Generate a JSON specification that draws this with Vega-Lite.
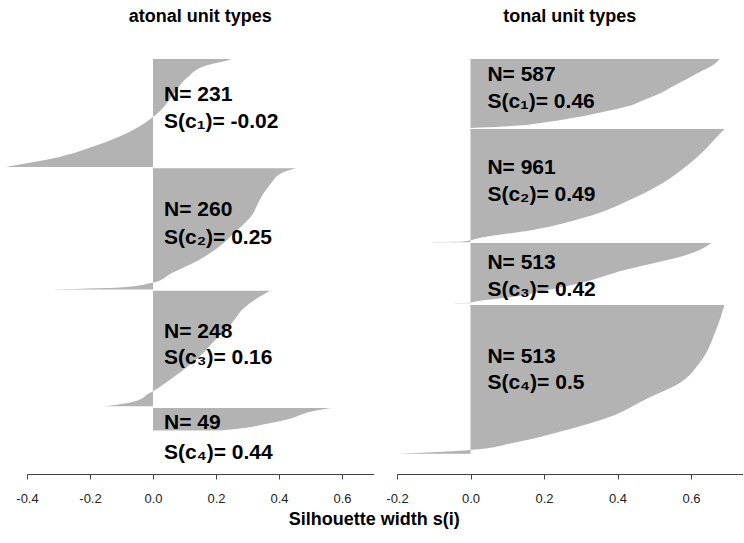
{
  "$schema": "https://vega.github.io/schema/vega-lite/v6.json",
  "padding": {"left": 5, "top": 8, "right": 0, "bottom": 0},
  "bounds": "flush",
  "spacing": 23,
  "config": {"view": {"stroke": null}, "font": "Liberation Sans"},
  "title": {"text": "Silhouette width s(i)", "orient": "bottom", "anchor": "middle", "fontSize": 18, "fontWeight": "bold", "font": "Liberation Sans", "color": "#000000", "offset": 6},
  "datasets": {
    "atonal": [
      {"c": 1, "pos": 0, "s": 0.248}, {"c": 1, "pos": 2, "s": 0.24}, {"c": 1, "pos": 13, "s": 0.174}, {"c": 1, "pos": 39, "s": 0.11}, {"c": 1, "pos": 73, "s": 0.068}, {"c": 1, "pos": 116, "s": 0.015}, {"c": 1, "pos": 124, "s": 0.0}, {"c": 1, "pos": 146, "s": -0.048}, {"c": 1, "pos": 167, "s": -0.11}, {"c": 1, "pos": 189, "s": -0.197}, {"c": 1, "pos": 210, "s": -0.3}, {"c": 1, "pos": 223, "s": -0.4}, {"c": 1, "pos": 231, "s": -0.467},
      {"c": 2, "pos": 234, "s": 0.454}, {"c": 2, "pos": 245, "s": 0.406}, {"c": 2, "pos": 266, "s": 0.375}, {"c": 2, "pos": 309, "s": 0.333}, {"c": 2, "pos": 331, "s": 0.317}, {"c": 2, "pos": 373, "s": 0.257}, {"c": 2, "pos": 404, "s": 0.206}, {"c": 2, "pos": 431, "s": 0.143}, {"c": 2, "pos": 459, "s": 0.057}, {"c": 2, "pos": 479, "s": 0.0}, {"c": 2, "pos": 480, "s": -0.01}, {"c": 2, "pos": 486, "s": -0.06}, {"c": 2, "pos": 490, "s": -0.15}, {"c": 2, "pos": 493, "s": -0.32},
      {"c": 3, "pos": 496, "s": 0.372}, {"c": 3, "pos": 511, "s": 0.333}, {"c": 3, "pos": 532, "s": 0.29}, {"c": 3, "pos": 567, "s": 0.248}, {"c": 3, "pos": 603, "s": 0.195}, {"c": 3, "pos": 640, "s": 0.143}, {"c": 3, "pos": 674, "s": 0.079}, {"c": 3, "pos": 700, "s": 0.025}, {"c": 3, "pos": 711, "s": 0.0}, {"c": 3, "pos": 717, "s": -0.017}, {"c": 3, "pos": 728, "s": -0.04}, {"c": 3, "pos": 736, "s": -0.08}, {"c": 3, "pos": 743, "s": -0.155},
      {"c": 4, "pos": 747, "s": 0.565}, {"c": 4, "pos": 755, "s": 0.5}, {"c": 4, "pos": 769, "s": 0.438}, {"c": 4, "pos": 782, "s": 0.35}, {"c": 4, "pos": 791, "s": 0.27}, {"c": 4, "pos": 795, "s": 0.2}
    ],
    "tonal": [
      {"c": 1, "pos": 0, "s": 0.678}, {"c": 1, "pos": 50, "s": 0.66}, {"c": 1, "pos": 100, "s": 0.63}, {"c": 1, "pos": 150, "s": 0.6}, {"c": 1, "pos": 200, "s": 0.57}, {"c": 1, "pos": 250, "s": 0.54}, {"c": 1, "pos": 300, "s": 0.51}, {"c": 1, "pos": 350, "s": 0.47}, {"c": 1, "pos": 400, "s": 0.43}, {"c": 1, "pos": 450, "s": 0.36}, {"c": 1, "pos": 500, "s": 0.28}, {"c": 1, "pos": 540, "s": 0.2}, {"c": 1, "pos": 570, "s": 0.11}, {"c": 1, "pos": 582, "s": 0.03}, {"c": 1, "pos": 587, "s": 0.0},
      {"c": 2, "pos": 595, "s": 0.691}, {"c": 2, "pos": 663, "s": 0.67}, {"c": 2, "pos": 773, "s": 0.637}, {"c": 2, "pos": 943, "s": 0.574}, {"c": 2, "pos": 1054, "s": 0.523}, {"c": 2, "pos": 1198, "s": 0.433}, {"c": 2, "pos": 1343, "s": 0.315}, {"c": 2, "pos": 1453, "s": 0.169}, {"c": 2, "pos": 1521, "s": 0.025}, {"c": 2, "pos": 1540, "s": 0.0}, {"c": 2, "pos": 1550, "s": -0.02}, {"c": 2, "pos": 1553, "s": -0.04}, {"c": 2, "pos": 1556, "s": -0.11},
      {"c": 3, "pos": 1563, "s": 0.655}, {"c": 3, "pos": 1622, "s": 0.623}, {"c": 3, "pos": 1682, "s": 0.569}, {"c": 3, "pos": 1733, "s": 0.5}, {"c": 3, "pos": 1793, "s": 0.42}, {"c": 3, "pos": 1903, "s": 0.3}, {"c": 3, "pos": 1963, "s": 0.21}, {"c": 3, "pos": 2022, "s": 0.115}, {"c": 3, "pos": 2063, "s": 0.01}, {"c": 3, "pos": 2070, "s": 0.0}, {"c": 3, "pos": 2073, "s": -0.03}, {"c": 3, "pos": 2076, "s": -0.07},
      {"c": 4, "pos": 2090, "s": 0.691}, {"c": 4, "pos": 2302, "s": 0.668}, {"c": 4, "pos": 2583, "s": 0.623}, {"c": 4, "pos": 2753, "s": 0.569}, {"c": 4, "pos": 2889, "s": 0.478}, {"c": 4, "pos": 3042, "s": 0.378}, {"c": 4, "pos": 3152, "s": 0.261}, {"c": 4, "pos": 3262, "s": 0.115}, {"c": 4, "pos": 3322, "s": 0.0}, {"c": 4, "pos": 3355, "s": -0.212}
    ],
    "atonalLabels": [
      {"pos": 77, "s": 0.035, "t": "N= 231"}, {"pos": 135, "s": 0.035, "t": "S(c₁)= -0.02"},
      {"pos": 324, "s": 0.035, "t": "N= 260"}, {"pos": 382, "s": 0.035, "t": "S(c₂)= 0.25"},
      {"pos": 584, "s": 0.035, "t": "N= 248"}, {"pos": 639, "s": 0.035, "t": "S(c₃)= 0.16"},
      {"pos": 779, "s": 0.035, "t": "N= 49"}, {"pos": 843, "s": 0.035, "t": "S(c₄)= 0.44"}
    ],
    "tonalLabels": [
      {"pos": 136, "s": 0.046, "t": "N= 587"}, {"pos": 365, "s": 0.046, "t": "S(c₁)= 0.46"},
      {"pos": 926, "s": 0.046, "t": "N= 961"}, {"pos": 1155, "s": 0.046, "t": "S(c₂)= 0.49"},
      {"pos": 1733, "s": 0.046, "t": "N= 513"}, {"pos": 1963, "s": 0.046, "t": "S(c₃)= 0.42"},
      {"pos": 2532, "s": 0.046, "t": "N= 513"}, {"pos": 2753, "s": 0.046, "t": "S(c₄)= 0.5"}
    ]
  },
  "hconcat": [
    {
      "width": 346.5,
      "height": 415,
      "title": {"text": "atonal unit types", "fontSize": 18, "fontWeight": "bold", "font": "Liberation Sans", "color": "#000000", "anchor": "middle", "baseline": "alphabetic", "offset": 19},
      "layer": [
        {
          "data": {"name": "atonal"},
          "mark": {"type": "area", "orient": "horizontal", "color": "#b3b3b3", "interpolate": "monotone"},
          "encoding": {
            "y": {"field": "pos", "type": "quantitative", "scale": {"domain": [0, 888], "reverse": true, "nice": false, "zero": false}, "axis": null},
            "x": {"field": "s", "type": "quantitative", "stack": null, "scale": {"domain": [-0.4, 0.7], "nice": false, "zero": false},
              "axis": {"title": null, "values": [-0.4, -0.2, 0, 0.2, 0.4, 0.6], "labelExpr": "datum.value < 0 ? '-' + format(-datum.value, '.1f') : format(datum.value, '.1f')", "grid": false, "domainColor": "#444444", "tickColor": "#444444", "tickLength": 8, "labelPadding": 13, "labelFont": "Liberation Sans", "labelFontSize": 13, "labelColor": "#222222", "labelFlush": false}},
            "detail": {"field": "c", "type": "nominal"}
          }
        },
        {
          "data": {"name": "atonalLabels"},
          "mark": {"type": "text", "align": "left", "baseline": "middle", "fontSize": 21, "fontWeight": "bold", "font": "Liberation Sans", "color": "#000000"},
          "encoding": {
            "y": {"field": "pos", "type": "quantitative"},
            "x": {"field": "s", "type": "quantitative"},
            "text": {"field": "t", "type": "nominal"}
          }
        }
      ]
    },
    {
      "width": 345.5,
      "height": 415,
      "title": {"text": "tonal unit types", "fontSize": 18, "fontWeight": "bold", "font": "Liberation Sans", "color": "#000000", "anchor": "middle", "baseline": "alphabetic", "offset": 19},
      "layer": [
        {
          "data": {"name": "tonal"},
          "mark": {"type": "area", "orient": "horizontal", "color": "#b3b3b3", "interpolate": "monotone"},
          "encoding": {
            "y": {"field": "pos", "type": "quantitative", "scale": {"domain": [0, 3526], "reverse": true, "nice": false, "zero": false}, "axis": null},
            "x": {"field": "s", "type": "quantitative", "stack": null, "scale": {"domain": [-0.2, 0.74], "nice": false, "zero": false},
              "axis": {"title": null, "values": [-0.2, 0, 0.2, 0.4, 0.6], "labelExpr": "datum.value < 0 ? '-' + format(-datum.value, '.1f') : format(datum.value, '.1f')", "grid": false, "domainColor": "#444444", "tickColor": "#444444", "tickLength": 8, "labelPadding": 13, "labelFont": "Liberation Sans", "labelFontSize": 13, "labelColor": "#222222", "labelFlush": false}},
            "detail": {"field": "c", "type": "nominal"}
          }
        },
        {
          "data": {"name": "tonalLabels"},
          "mark": {"type": "text", "align": "left", "baseline": "middle", "fontSize": 21, "fontWeight": "bold", "font": "Liberation Sans", "color": "#000000"},
          "encoding": {
            "y": {"field": "pos", "type": "quantitative"},
            "x": {"field": "s", "type": "quantitative"},
            "text": {"field": "t", "type": "nominal"}
          }
        }
      ]
    }
  ]
}
